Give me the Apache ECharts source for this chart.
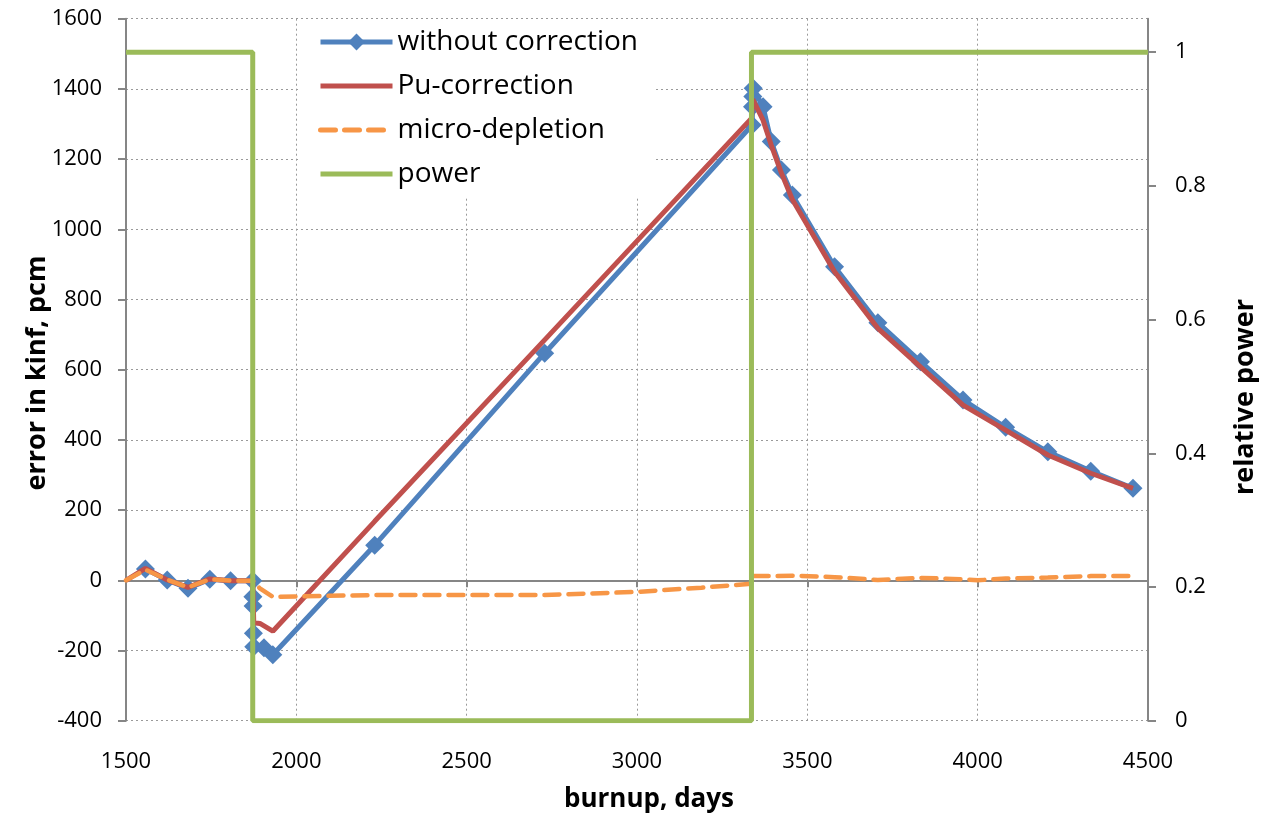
<!DOCTYPE html>
<html>
<head>
<meta charset="utf-8">
<script src="https://cdn.jsdelivr.net/npm/echarts@6/dist/echarts.min.js"></script>
<style>
html,body{margin:0;padding:0;background:#fff;}
#c{width:1262px;height:819px;}
</style>
</head>
<body>
<div id="c"></div>
<script>
// ---- data ----
const xTicks = [1500, 2000, 2500, 3000, 3500, 4000, 4500];
const leftTicks = [-400, -200, 0, 200, 400, 600, 800, 1000, 1200, 1400, 1600];
const rightTicks = [0, 0.2, 0.4, 0.6, 0.8, 1];

const withoutCorrection = [
  [1557, 32], [1621, 1], [1682, -23], [1746, 3], [1807, -1], [1872, -1],
  [1872.5, -47], [1873, -73], [1874, -151], [1875, -189], [1905, -192], [1931, -212],
  [2230, 100], [2729, 647], [3338, 1297], [3339, 1349], [3340, 1378], [3341, 1402],
  [3370, 1349], [3394, 1250], [3424, 1169], [3456, 1098], [3580, 893], [3707, 734],
  [3832, 623], [3957, 514], [4082, 436], [4206, 366], [4332, 311], [4456, 262]
];
const puCorrection = [
  [1500, 0], [1557, 34], [1621, 1], [1682, -20], [1746, 4], [1807, -1], [1872, -1],
  [1875, -121], [1893, -123], [1931, -145], [2230, 168], [2729, 685], [3336, 1316],
  [3340, 1370], [3370, 1311], [3394, 1240], [3424, 1160], [3456, 1085], [3580, 879],
  [3707, 718], [3832, 608], [3957, 499], [4082, 428], [4206, 357], [4332, 305], [4456, 262]
];
const microDepletion = [
  [1500, 0], [1557, 30], [1621, 2], [1682, -20], [1746, 3], [1807, -1], [1872, -1],
  [1893, -23], [1931, -47], [2230, -42], [2729, -42], [3000, -33], [3189, -21], [3336, -10],
  [3340, 12], [3394, 12], [3456, 13], [3580, 9], [3707, 1], [3832, 7], [3957, 3],
  [4000, 0], [4082, 5], [4206, 8], [4332, 12], [4456, 12]
];
const power = [
  [1500, 1], [1872, 1], [1872, 0], [3336, 0], [3336, 1], [4500, 1]
];
const axisTitles = {x: 'burnup, days', left: 'error in kinf, pcm', right: 'relative power'};

const FONT = '"Open Sans", "Liberation Sans", sans-serif';
const AXIS_GRAY = '#868686';
const GRID_GRAY = '#9a9a9a';
const plain = v => String(v);

const chart = echarts.init(document.getElementById('c'), null, {renderer: 'canvas'});
chart.setOption({
  animation: false,
  backgroundColor: '#fff',
  textStyle: {fontFamily: FONT},
  grid: {left: 126, right: 114, top: 18.7, bottom: 98.3, containLabel: false},
  legend: {
    orient: 'vertical',
    left: 300, top: 19,
    padding: [8, 18, 8, 18],
    backgroundColor: '#fff',
    itemWidth: 72, itemHeight: 21, itemGap: 14,
    lineStyle: {width: 5},
    textStyle: {fontFamily: FONT, fontSize: 28, color: '#000', lineHeight: 30},
    data: [
      {name: 'without correction'},
      {name: 'Pu-correction', itemStyle: {opacity: 0}},
      {name: 'micro-depletion', itemStyle: {opacity: 0}, lineStyle: {width: 5, type: [15, 9], cap: 'round'}},
      {name: 'power', itemStyle: {opacity: 0}}
    ]
  },
  xAxis: [{
    type: 'value', min: xTicks[0], max: xTicks[xTicks.length - 1], interval: 500,
    position: 'bottom',
    axisLine: {show: false, onZero: false},
    axisTick: {show: false},
    axisLabel: {fontFamily: FONT, fontSize: 22, color: '#000', margin: 30, formatter: plain},
    splitLine: {show: true, lineStyle: {color: GRID_GRAY, type: [2, 3], width: 1}}
  }, {
    type: 'value', min: xTicks[0], max: xTicks[xTicks.length - 1], interval: 500,
    position: 'top',
    axisLine: {show: true, onZero: true, lineStyle: {color: AXIS_GRAY, width: 2}},
    axisTick: {show: true, inside: true, length: 7, lineStyle: {color: AXIS_GRAY, width: 2}},
    axisLabel: {show: false},
    splitLine: {show: false}
  }],
  yAxis: [{
    type: 'value', min: leftTicks[0], max: leftTicks[leftTicks.length - 1], interval: 200,
    position: 'left',
    axisLine: {show: true, onZero: false, lineStyle: {color: AXIS_GRAY, width: 2}},
    axisTick: {show: true, length: 8, lineStyle: {color: AXIS_GRAY, width: 2}},
    axisLabel: {fontFamily: FONT, fontSize: 22, color: '#000', margin: 24, formatter: plain},
    splitLine: {show: true, lineStyle: {color: GRID_GRAY, type: [2, 3], width: 1}}
  }, {
    type: 'value', min: 0, max: 1.05,
    position: 'right',
    axisLine: {show: true, onZero: false, lineStyle: {color: AXIS_GRAY, width: 2}},
    axisTick: {show: true, length: 8, customValues: rightTicks, lineStyle: {color: AXIS_GRAY, width: 2}},
    axisLabel: {fontFamily: FONT, fontSize: 22, color: '#000', margin: 27, customValues: rightTicks, formatter: plain},
    splitLine: {show: false}
  }],
  graphic: [{
    type: 'text', x: 649, y: 800,
    style: {text: axisTitles.x, fontFamily: FONT, fontSize: 26, fontWeight: 'bold',
      fill: '#000', textAlign: 'center', textVerticalAlign: 'middle'}
  }, {
    type: 'text', x: 37, y: 373, rotation: Math.PI / 2,
    style: {text: axisTitles.left, fontFamily: FONT, fontSize: 27, fontWeight: 'bold',
      fill: '#000', textAlign: 'center', textVerticalAlign: 'middle'}
  }, {
    type: 'text', x: 1245, y: 397, rotation: Math.PI / 2,
    style: {text: axisTitles.right, fontFamily: FONT, fontSize: 27, fontWeight: 'bold',
      fill: '#000', textAlign: 'center', textVerticalAlign: 'middle'}
  }],
  series: [{
    name: 'without correction', type: 'line', data: withoutCorrection,
    xAxisIndex: 0, yAxisIndex: 0,
    symbol: 'diamond', symbolSize: 19, showSymbol: true,
    lineStyle: {color: '#4F81BD', width: 5},
    itemStyle: {color: '#4F81BD'},
    z: 2
  }, {
    name: 'Pu-correction', type: 'line', data: puCorrection,
    xAxisIndex: 0, yAxisIndex: 0,
    symbol: 'none',
    lineStyle: {color: '#C0504D', width: 5},
    itemStyle: {color: '#C0504D'},
    z: 3
  }, {
    name: 'micro-depletion', type: 'line', data: microDepletion,
    xAxisIndex: 0, yAxisIndex: 0,
    symbol: 'none',
    lineStyle: {color: '#F79646', width: 4.5, type: [15, 9], cap: 'round'},
    itemStyle: {color: '#F79646'},
    z: 4
  }, {
    name: 'power', type: 'line', data: power,
    xAxisIndex: 0, yAxisIndex: 1,
    symbol: 'none',
    lineStyle: {color: '#9BBB59', width: 5},
    itemStyle: {color: '#9BBB59'},
    z: 5
  }]
});
</script>
</body>
</html>
